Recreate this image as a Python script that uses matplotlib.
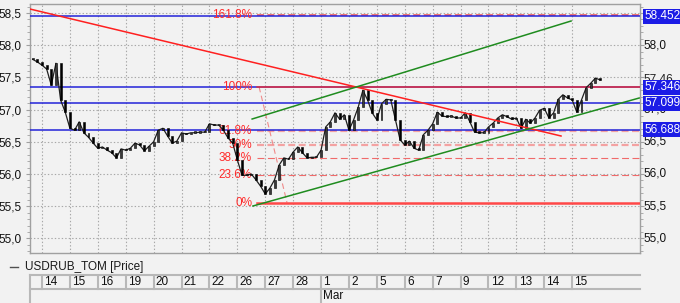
import numpy as np
import matplotlib.pyplot as plt
from matplotlib.ticker import MultipleLocator, FuncFormatter
import matplotlib.transforms as mtransforms
from matplotlib.lines import Line2D

plt.rcParams['font.family'] = ['Liberation Sans', 'DejaVu Sans']
plt.rcParams['lines.scale_dashes'] = False

# USDRUB_TOM closes, 6 bars per trading day (first two bars belong to Feb 13)
closes = [57.78, 57.74, 57.69, 57.63, 57.38, 57.72, 57.15, 56.96, 56.71, 56.68,
          56.81, 56.64, 56.57, 56.48, 56.40, 56.42, 56.37, 56.33, 56.25, 56.39,
          56.37, 56.40, 56.48, 56.45, 56.36, 56.43, 56.50, 56.68, 56.71, 56.59,
          56.48, 56.51, 56.64, 56.62, 56.64, 56.64, 56.65, 56.65, 56.78, 56.76,
          56.76, 56.68, 56.56, 56.48, 56.22, 55.98, 55.98, 56.00, 55.91, 55.81,
          55.69, 55.78, 55.91, 56.14, 56.25, 56.23, 56.34, 56.42, 56.33, 56.25,
          56.26, 56.26, 56.37, 56.73, 56.81, 56.95, 56.85, 56.92, 56.68, 56.84,
          57.04, 57.30, 57.15, 56.95, 56.84, 57.09, 57.16, 57.15, 56.84, 56.53,
          56.45, 56.51, 56.40, 56.37, 56.61, 56.68, 56.78, 56.96, 56.90, 56.89,
          56.90, 56.87, 56.87, 56.95, 56.81, 56.65, 56.64, 56.64, 56.73, 56.79,
          56.87, 56.92, 56.89, 56.85, 56.87, 56.71, 56.85, 56.79, 56.87, 56.99,
          57.02, 56.87, 56.95, 57.16, 57.23, 57.18, 57.15, 56.96, 57.15, 57.34,
          57.41, 57.49, 57.46]
bars_per_day = 6
first_bar = -2

days = ['14', '15', '16', '19', '20', '21', '22', '26', '27', '28',
        '1', '2', '5', '6', '7', '9', '12', '13', '14', '15']
month_label = 'Mar'
month_start = 10

# price scale labels
left_ticks = [55.0, 55.5, 56.0, 56.5, 57.0, 57.5, 58.0, 58.5]
right_ticks = [55.0, 55.5, 56.0, 56.5, 57.0, 58.0]

# horizontal levels with value boxes
levels = [58.452, 57.346, 57.099, 56.688]
last_price = 57.46

# fibonacci retracement
fib_low = 55.556
fib_high = 57.352
fib_ratios = [0.0, 0.236, 0.382, 0.5, 0.618, 1.0, 1.618]
fib_names = ['0%', '23.6%', '38.2%', '50%', '61.8%', '100%', '161.8%']
fib_start = 7.72
fib_anchor_t = [7.78, 8.78]

# trend lines (day index, price)
red_t = [-0.43, 18.60]
red_v = [58.562, 56.59]
green_low_t = [7.56, 21.40]
green_low_v = [55.503, 57.180]
green_up_t = [7.53, 18.96]
green_up_v = [56.854, 58.376]

bg = '#f2f2f2'
grid_c = '#a8a8a8'
frame_c = '#a0a0a0'
blue = '#2323d8'
fmt = lambda v: f'{v:.1f}'.replace('.', ',')

fig = plt.figure(figsize=(6.8, 3.03), dpi=100, facecolor=bg)
ax = fig.add_axes([30/680, 50/303, 610/680, 249/303], facecolor=bg)
xmin, xmax = -0.43, 21.43
ax.set_xlim(xmin, xmax)
ax.set_ylim(54.773, 58.64)

# grid
for d in range(len(days)):
    ax.axvline(d, color=grid_c, lw=0.8, ls=(0, (1, 1.5)), zorder=1)
ax.set_yticks(left_ticks)
ax.yaxis.set_minor_locator(MultipleLocator(0.1))
ax.grid(axis='y', which='major', color=grid_c, lw=0.8, ls=(0, (1, 1.5)), zorder=1)
ax.set_xticks([])
ax.yaxis.set_major_formatter(FuncFormatter(lambda v, p: fmt(v)))
ax.tick_params(axis='y', which='both', left=True, right=True, labelleft=True, labelright=False,
               direction='out', colors=frame_c, labelcolor='#111111', labelsize=8.5, pad=3)
ax.tick_params(axis='y', which='major', length=3)
ax.tick_params(axis='y', which='minor', length=2)
for s in ax.spines.values():
    s.set_color(frame_c)
    s.set_linewidth(1.0)

trans = mtransforms.blended_transform_factory(ax.transAxes, ax.transData)
for v in right_ticks:
    ax.text(1.006, v, fmt(v), transform=trans, ha='left', va='center',
            fontsize=8.5, color='#111111', clip_on=False, zorder=7)

# horizontal blue levels
for lv in levels:
    ax.axhline(lv, color=blue, lw=1.1, zorder=3)

# fibonacci
fib_vals = [fib_low + r * (fib_high - fib_low) for r in fib_ratios]
for r, v, name in zip(fib_ratios, fib_vals, fib_names):
    if r == 0.0:
        ax.plot([fib_start, xmax], [v, v], color='#ff4848', lw=1.8, zorder=3)
    elif r == 1.0:
        ax.plot([fib_start, xmax], [v, v], color='#e5303a', lw=1.1, zorder=3)
    elif r in (0.5, 0.618):
        ax.plot([fib_start, xmax], [v, v], color='#f4a2a2', lw=1.6, ls=(0, (5, 2.5)), zorder=2)
    elif r == 1.618:
        ax.plot([fib_start, xmax], [v, v], color='#f07070', lw=1.4, ls=(0, (5, 2.5)), zorder=2)
    else:
        ax.plot([fib_start, xmax], [v, v], color='#f06a6a', lw=0.8, ls=(0, (5, 2.5)), zorder=2)
    ax.text(7.53, v, name, ha='right', va='center', color='#ff2a2a', fontsize=8.5, zorder=4)
ax.plot(fib_anchor_t, [fib_high, fib_low], color='#f08a8a', lw=0.8, ls=(0, (4, 2.5)), zorder=2)

# trend lines
ax.plot(red_t, red_v, color='#ff2020', lw=1.1, zorder=6)
ax.plot(green_low_t, green_low_v, color='#1f8c1f', lw=1.1, zorder=6)
ax.plot(green_up_t, green_up_v, color='#1f8c1f', lw=1.1, zorder=6)

# price candles
c = np.array(closes)
o = np.r_[c[0], c[:-1]]
t = (np.arange(len(c)) + first_bar) / bars_per_day
h = np.maximum(np.abs(c - o), 0.02)
b = np.minimum(o, c)
fc = np.where(c >= o, '#3a3a3a', '#000000')
ax.plot(t, c, color='#202020', lw=0.9, zorder=5)
ax.bar(t, h, bottom=b, width=0.07, color=fc, edgecolor='#000000', linewidth=0.4, zorder=5)

# right side value labels
ax.text(1.006, last_price, f'{last_price:.2f}'.replace('.', ','), transform=trans,
        ha='left', va='center', fontsize=8.5, color='#222222', clip_on=False, zorder=7)
for lv in levels:
    ax.text(1.007, lv, f'{lv:.3f}', transform=trans, ha='left', va='center',
            fontsize=8.5, color='white', clip_on=False, zorder=8,
            bbox=dict(boxstyle='square,pad=0.12', fc='#1c1ce6', ec='none'))

# legend row
fig.add_artist(Line2D([10/680, 18/680], [36/303, 36/303], color='#505050', lw=1.0))
fig.text(25/680, 36/303, 'USDRUB_TOM [Price]', ha='left', va='center', fontsize=8.5, color='#1a1a1a')

# date strip
ax2 = fig.add_axes([30/680, 0, 610/680, 28/303], facecolor=bg)
ax2.set_xlim(xmin, xmax)
ax2.set_ylim(0, 2)
ax2.axis('off')
sep_c = '#b8b8b8'
ax2.plot([xmin, xmax], [1.97, 1.97], color=sep_c, lw=1.5, clip_on=False)
ax2.plot([xmin, xmax], [1.0, 1.0], color=sep_c, lw=1.5, clip_on=False)
ax2.plot([xmin, xmin], [0, 2], color=sep_c, lw=1.5, clip_on=False)
for i, d in enumerate(days):
    top = 0 if i == month_start else 1.0
    ax2.plot([i, i], [top, 1.97], color=sep_c, lw=1.5)
    ax2.text(i + 0.08, 1.48, d, ha='left', va='center', fontsize=8.5, color='#111111')
ax2.text(month_start + 0.08, 0.48, month_label, ha='left', va='center', fontsize=8.5, color='#111111')

fig.savefig('out.png', dpi=100, facecolor=bg)
